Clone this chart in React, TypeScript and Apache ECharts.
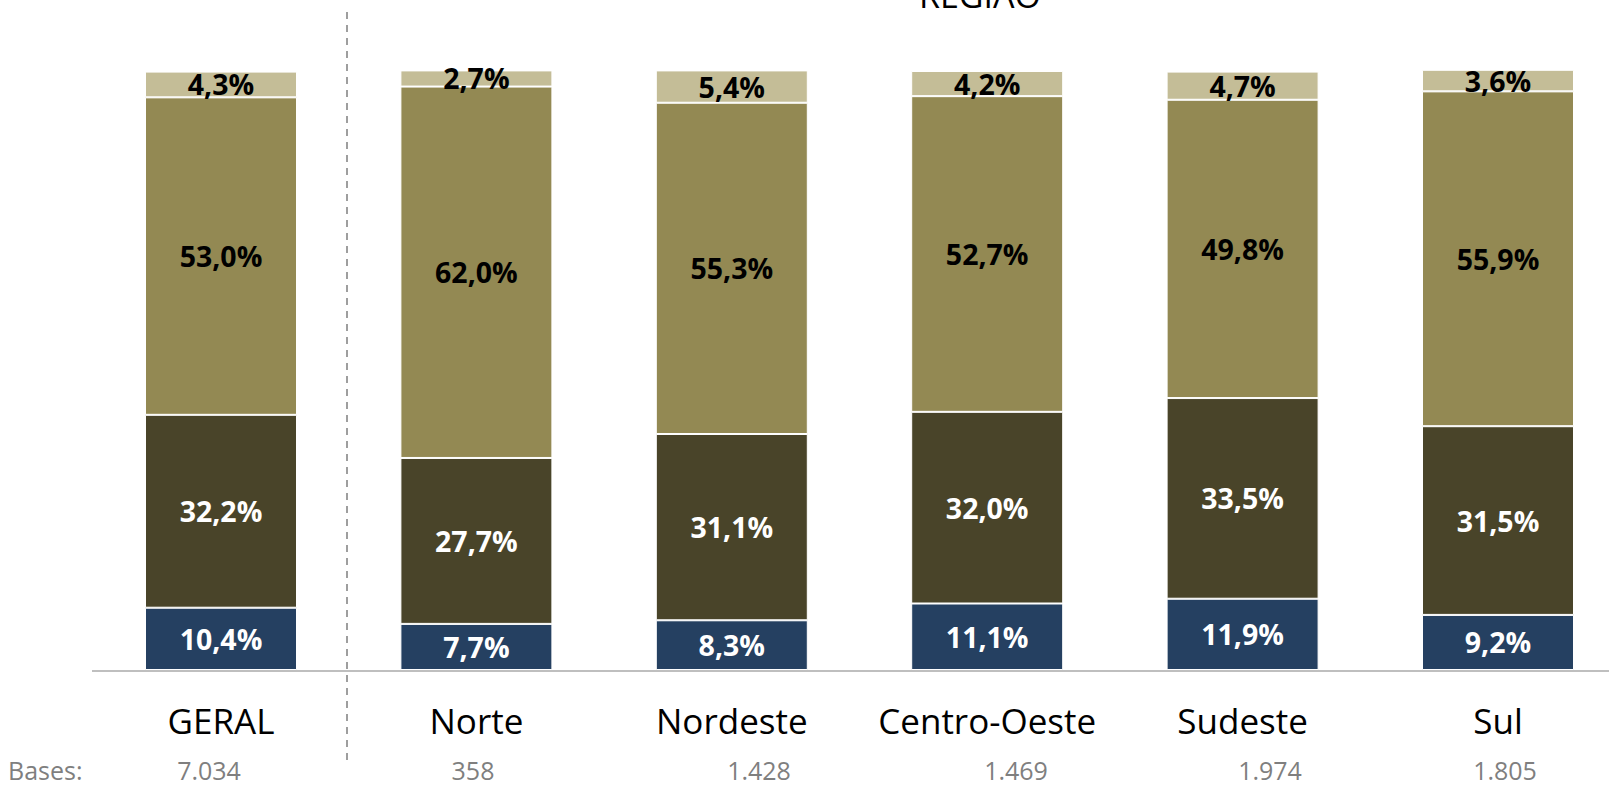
import React, { useEffect, useRef } from "react";
import * as echarts from "echarts";

const categories = ["GERAL", "Norte", "Nordeste", "Centro-Oeste", "Sudeste", "Sul"];
const serie1 = [10.4, 7.7, 8.3, 11.1, 11.9, 9.2];
const serie2 = [32.2, 27.7, 31.1, 32.0, 33.5, 31.5];
const serie3 = [53.0, 62.0, 55.3, 52.7, 49.8, 55.9];
const serie4 = [4.3, 2.7, 5.4, 4.2, 4.7, 3.6];
const bases = ["7.034", "358", "1.428", "1.469", "1.974", "1.805"];
const baseX = [209, 473, 759, 1016, 1270, 1505];

const seriesDefs = [
  { name: "Série 1", data: serie1, color: "#254061", labelColor: "#ffffff" },
  { name: "Série 2", data: serie2, color: "#494429", labelColor: "#ffffff" },
  { name: "Série 3", data: serie3, color: "#938953", labelColor: "#000000" },
  { name: "Série 4", data: serie4, color: "#C4BD97", labelColor: "#000000" },
];

const FONT = "'Open Sans', sans-serif";

export default function App() {
  const ref = useRef<HTMLDivElement>(null);
  useEffect(() => {
    if (!ref.current) return;
    const chart = echarts.init(ref.current, null, { renderer: "svg" });
    const fmt = (p: any) => Number(p.value).toFixed(1).replace(".", ",") + "%";
    chart.setOption({
      animation: false,
      backgroundColor: "#ffffff",
      grid: { left: 221, top: 71, width: 1277, height: 599, containLabel: false },
      xAxis: {
        type: "category",
        data: categories,
        boundaryGap: false,
        axisLine: { show: false },
        axisTick: { show: false },
        axisLabel: {
          interval: 0,
          color: "#000000",
          fontSize: 35,
          fontFamily: FONT,
          margin: 33,
        },
        splitLine: { show: false },
      },
      yAxis: { type: "value", min: 0, max: 100, show: false },
      series: seriesDefs.map((s) => ({
        name: s.name,
        type: "bar",
        stack: "total",
        data: s.data,
        barWidth: 152,
        clip: false,
        itemStyle: { color: s.color, borderColor: "#ffffff", borderWidth: 1 },
        label: {
          show: true,
          position: "inside",
          formatter: fmt,
          color: s.labelColor,
          fontSize: 28.5,
          fontWeight: "bold",
          fontFamily: FONT,
        },
      })),
      graphic: [
        {
          type: "line",
          shape: { x1: 92, y1: 671, x2: 1609, y2: 671 },
          style: { stroke: "#BFBFBF", lineWidth: 2 },
          z: 10,
        },
        {
          type: "text",
          x: 980,
          y: 12,
          style: {
            text: "REGIÃO",
            fontSize: 34,
            fontFamily: FONT,
            fill: "#000000",
            align: "center",
            verticalAlign: "bottom",
          },
        },
        {
          type: "line",
          shape: { x1: 347, y1: 12, x2: 347, y2: 760 },
          style: { stroke: "#7F7F7F", lineWidth: 1.5, lineDash: [7, 6] },
        },
        {
          type: "text",
          x: 8,
          y: 770,
          style: {
            text: "Bases:",
            fontSize: 25,
            lineHeight: 26,
            fontFamily: FONT,
            fill: "#7F7F7F",
            align: "left",
            verticalAlign: "middle",
          },
        },
        ...bases.map((b, i) => ({
          type: "text",
          x: baseX[i],
          y: 770,
          style: {
            text: b,
            fontSize: 25,
            lineHeight: 26,
            fontFamily: FONT,
            fill: "#7F7F7F",
            align: "center",
            verticalAlign: "middle",
          },
        })),
      ],
    });
    return () => chart.dispose();
  }, []);
  return (
    <div
      ref={ref}
      style={{ position: "fixed", left: 0, top: 0, width: 1609, height: 785 }}
    />
  );
}
